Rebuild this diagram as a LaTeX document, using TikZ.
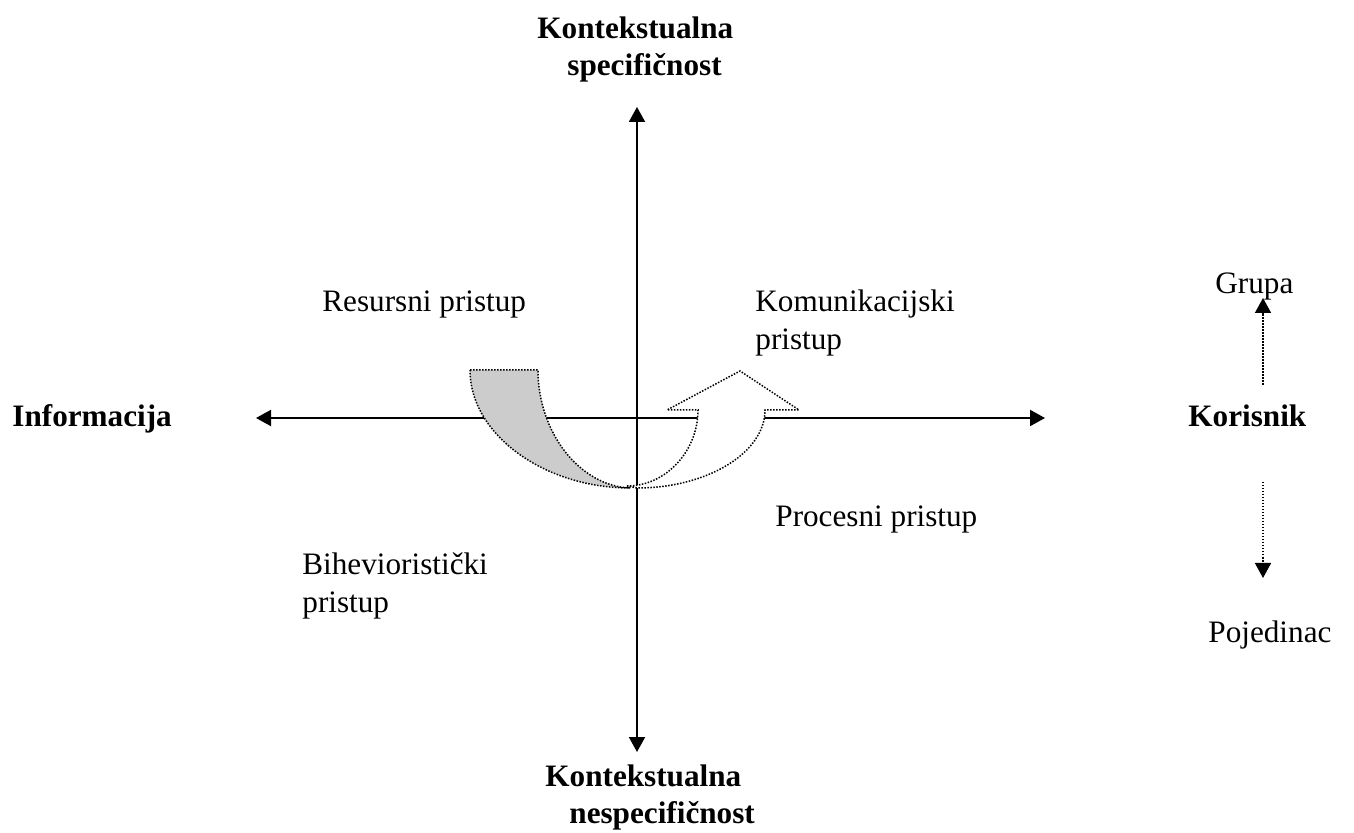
\documentclass[tikz,border=0pt]{standalone}
\usepackage{fontspec}
\setmainfont{Liberation Serif}
\usetikzlibrary{arrows.meta}

\begin{document}
\begin{tikzpicture}[x=0.5pt, y=-0.5pt
        , every node/.style={inner sep=0pt, font=\fontsize{15.6}{19}\selectfont}
        , title/.style={font=\fontsize{15.6}{18.5}\selectfont\bfseries}
        , axis/.style={line width=1pt
            , {Triangle[length=7.5pt,width=8pt]}-{Triangle[length=7.5pt,width=8pt]}}
        , dotline/.style={line width=0.75pt, dash pattern=on 0.75pt off 0.75pt}
        , dotarrow/.style={dotline, -{Triangle[length=7.5pt,width=8pt]}}
    ]
    \useasboundingbox (0,0) rectangle (1354,833);

    \coordinate (left) at (256,418);
    \coordinate (right) at (1045,418);
    \coordinate (top) at (637,107);
    \coordinate (bottom) at (637,752);

    % the two axes
    \draw[axis] (left) -- (right);
    \draw[axis] (bottom) -- (top);

    % axis labels
    \node[title, anchor=north west, align=left] (spec) at (537,16)
        {Kontekstualna\\\hspace*{15pt}specifičnost};
    \node[title, anchor=north west, align=left] (nespec) at (545,764)
        {Kontekstualna\\\hspace*{12pt}nespecifičnost};
    \node[title, anchor=base west] (info) at (12,427) {Informacija};
    \node[title, anchor=base west] (kor) at (1188,427) {Korisnik};

    % quadrants
    \node[anchor=base west] (res) at (322,312) {Resursni pristup};
    \node[anchor=north west, align=left] (kom) at (755,289)
        {Komunikacijski\\pristup};
    \node[anchor=base west] (proc) at (775,527) {Procesni pristup};
    \node[anchor=north west, align=left] (bih) at (302,552)
        {Bihevioristički\\pristup};

    % user side: group vs individual
    \node[anchor=base west] (grupa) at (1215,294) {Grupa};
    \node[anchor=base west] (poj) at (1208,642) {Pojedinac};
    \coordinate (upA) at (1263,385);
    \coordinate (upB) at (1263,298);
    \coordinate (dnA) at (1263,482);
    \coordinate (dnB) at (1263,578);
    \draw[dotarrow] (upA) -- (upB);
    \draw[dotarrow] (dnA) -- (dnB);

    % shaded back of the curved arrow
    \filldraw[fill=black!20, dotline] (470,370) -- (538,370)
        .. controls (538,433) and (580,486) .. (630,488)
        .. controls (545,488) and (470,435) .. (470,370) -- cycle;

    % front of the curved arrow, pointing up
    \filldraw[fill=white, dotline] (627,486)
        .. controls (666,486) and (698,451) .. (698,410)
        -- (667,410) -- (740,371) -- (799,410) -- (765,410)
        .. controls (765,453) and (707,488) .. (637,488) -- cycle;
\end{tikzpicture}
\end{document}
